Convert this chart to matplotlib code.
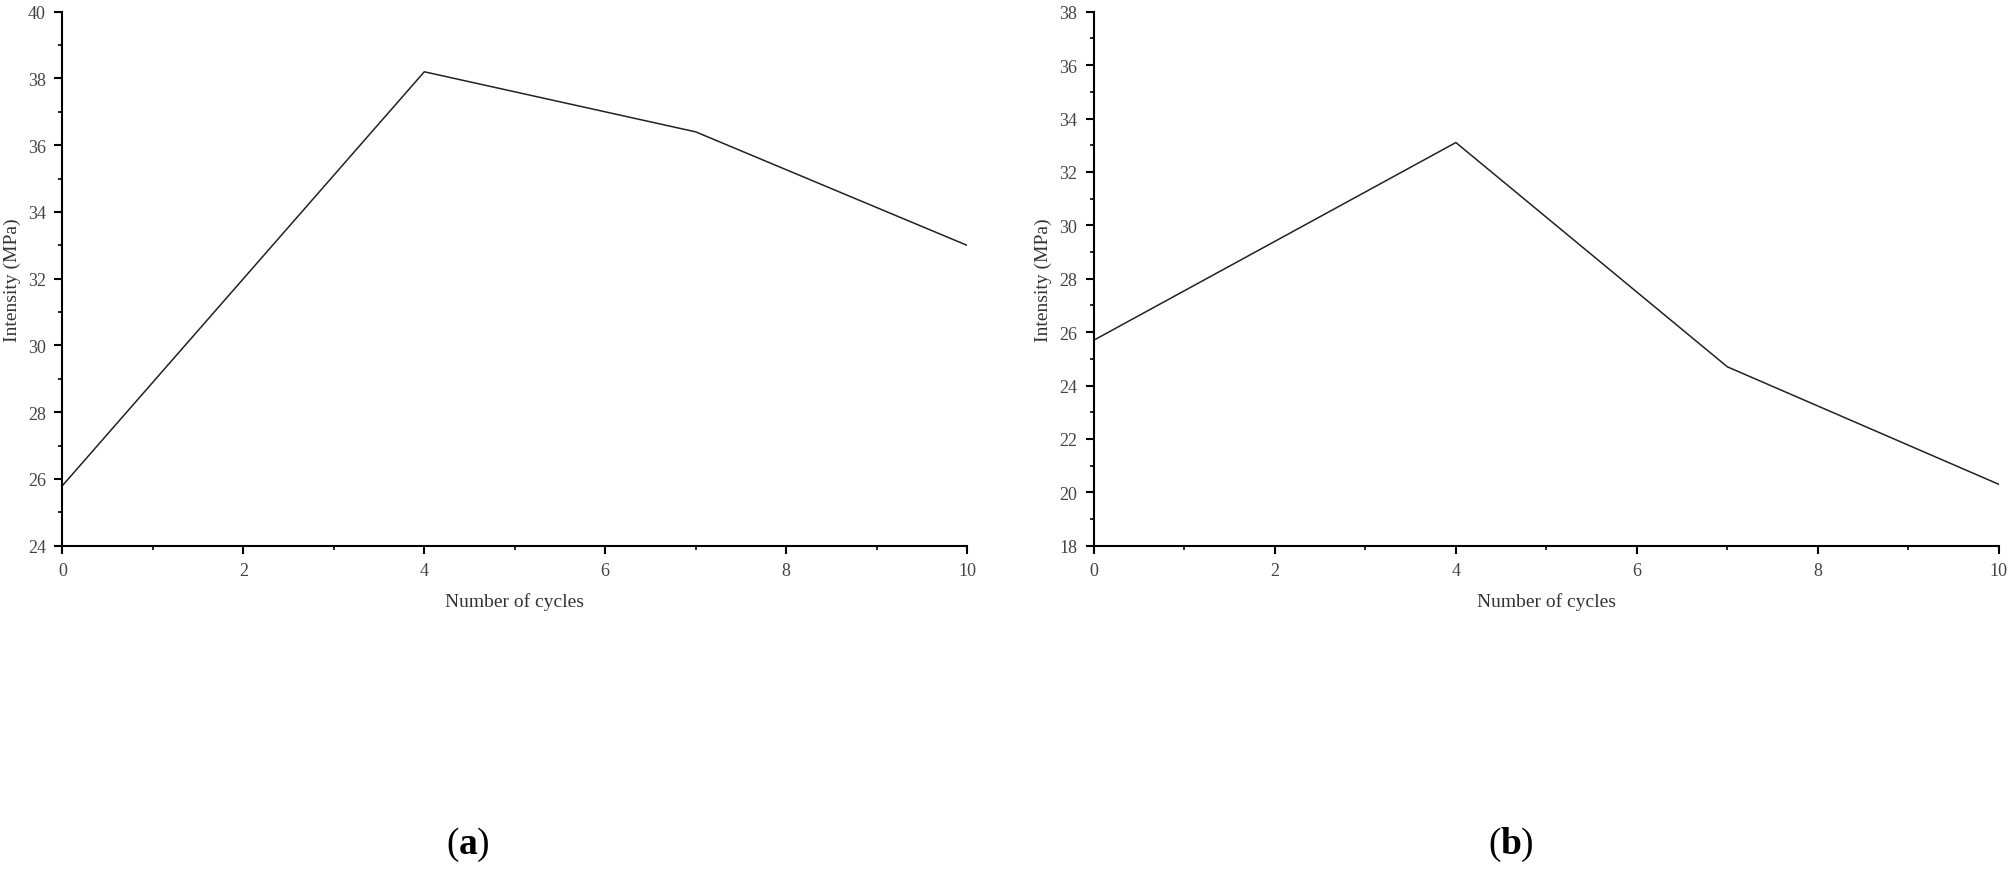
import matplotlib
matplotlib.use('Agg')
from matplotlib import pyplot as plt
from matplotlib.ticker import MultipleLocator

cycles = [0, 4, 7, 10]
intensity_a = [25.8, 38.2, 36.4, 33.0]
intensity_b = [25.7, 33.1, 24.7, 20.3]

plt.rcParams['font.family'] = ['Liberation Serif', 'DejaVu Serif']

fig = plt.figure(figsize=(20.08, 8.7), dpi=100)
ax1 = fig.add_axes([0.0311, 0.3716, 0.4505, 0.6138])
ax2 = fig.add_axes([0.5448, 0.3716, 0.4506, 0.6138])


def style(ax, ylim):
    ax.set_xlim(0, 10)
    ax.set_ylim(*ylim)
    for s in ['top', 'right']:
        ax.spines[s].set_visible(False)
    for s in ['left', 'bottom']:
        ax.spines[s].set_linewidth(1.5)
    ax.xaxis.set_major_locator(MultipleLocator(2))
    ax.xaxis.set_minor_locator(MultipleLocator(1))
    ax.yaxis.set_major_locator(MultipleLocator(2))
    ax.yaxis.set_minor_locator(MultipleLocator(1))
    ax.tick_params(which='major', direction='out', length=6, width=1.5,
                   labelsize=13, labelcolor='#444444', pad=6)
    ax.tick_params(which='minor', direction='out', length=3, width=1.2)
    ax.set_xlabel('Number of cycles', fontsize=14, color='#333333', labelpad=9)
    ax.set_ylabel('Intensity (MPa)', fontsize=14, color='#333333', labelpad=5)


ax1.plot(cycles, intensity_a, color='#222222', lw=1.1)
style(ax1, (24, 40))
ax2.plot(cycles, intensity_b, color='#222222', lw=1.1)
style(ax2, (18, 38))

yb = 0.018
fig.text(0.2285, yb, '(', fontsize=27, ha='right', va='baseline')
fig.text(0.2285, yb, 'a', fontsize=27, fontweight='bold', ha='left', va='baseline')
fig.text(0.2285 + 0.0088, yb, ')', fontsize=27, ha='left', va='baseline')
fig.text(0.7475, yb, '(', fontsize=27, ha='right', va='baseline')
fig.text(0.7475, yb, 'b', fontsize=27, fontweight='bold', ha='left', va='baseline')
fig.text(0.7475 + 0.0098, yb, ')', fontsize=27, ha='left', va='baseline')

fig.savefig('out.png', dpi=100, facecolor='white')
